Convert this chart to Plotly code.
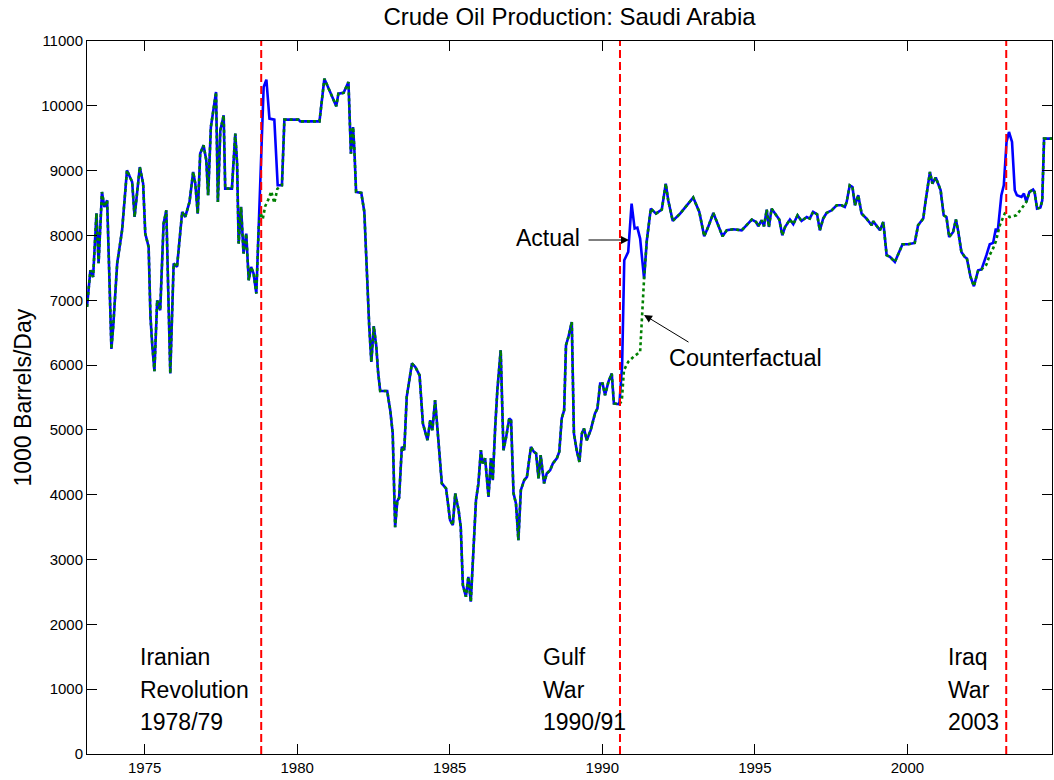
import plotly.graph_objects as go

# ---------------- data ----------------
years = [
    1973.11, 1973.22, 1973.31, 1973.42, 1973.49, 1973.60, 1973.68, 1973.77, 1973.91, 1973.97,
    1974.10, 1974.26, 1974.42, 1974.59, 1974.67, 1974.84, 1974.95, 1975.02, 1975.13, 1975.19,
    1975.25, 1975.32, 1975.41, 1975.47, 1975.51, 1975.62, 1975.71, 1975.78, 1975.84, 1975.95,
    1976.06, 1976.23, 1976.33, 1976.47, 1976.59, 1976.66, 1976.74, 1976.82, 1976.93, 1977.02,
    1977.08, 1977.17, 1977.26, 1977.34, 1977.40, 1977.48, 1977.59, 1977.64, 1977.86, 1977.97,
    1978.03, 1978.08, 1978.16, 1978.24, 1978.33, 1978.41, 1978.49, 1978.57, 1978.66,
    1978.74, 1978.82, 1978.90, 1978.99, 1979.09, 1979.25, 1979.36, 1979.50, 1979.58,
    1980.04, 1980.10, 1980.73, 1980.89, 1981.08, 1981.28, 1981.35, 1981.52, 1981.68, 1981.76,
    1981.83, 1981.87, 1981.93, 1982.10, 1982.20, 1982.28, 1982.36, 1982.43, 1982.51, 1982.59,
    1982.65, 1982.72, 1982.95, 1983.05, 1983.13, 1983.21, 1983.28, 1983.34, 1983.43, 1983.51,
    1983.59, 1983.76, 1983.87, 1984.01, 1984.12, 1984.27, 1984.36, 1984.43, 1984.52, 1984.60,
    1984.74, 1984.88, 1985.01, 1985.10, 1985.18, 1985.29, 1985.36, 1985.43, 1985.53, 1985.61,
    1985.69, 1985.86, 1985.94, 1986.02, 1986.08, 1986.16, 1986.27, 1986.35, 1986.41, 1986.49,
    1986.56, 1986.67, 1986.76, 1986.85, 1986.95, 1987.01, 1987.09, 1987.17, 1987.25, 1987.33,
    1987.44, 1987.53, 1987.66, 1987.76, 1987.83, 1987.91, 1987.98, 1988.09, 1988.18, 1988.29,
    1988.38, 1988.51, 1988.59, 1988.67, 1988.75, 1988.81, 1988.89, 1989.00, 1989.07, 1989.16,
    1989.25, 1989.33, 1989.40, 1989.49, 1989.62, 1989.76, 1989.84, 1989.93, 1990.01, 1990.09,
    1990.20, 1990.31, 1990.38, 1990.56,
    1990.65, 1990.72, 1990.85, 1990.96, 1991.06, 1991.15, 1991.24, 1991.37,
    1991.46, 1991.59, 1991.76, 1991.95, 1992.08, 1992.16, 1992.31, 1992.55, 1992.77, 1992.98,
    1993.18, 1993.34, 1993.47, 1993.64, 1993.77, 1993.94, 1994.08, 1994.29, 1994.57, 1994.73,
    1994.90, 1995.04, 1995.11, 1995.22, 1995.30, 1995.39, 1995.46, 1995.55, 1995.71, 1995.80,
    1995.90, 1995.99, 1996.15, 1996.26, 1996.40, 1996.53, 1996.70, 1996.80, 1996.91, 1997.04,
    1997.13, 1997.24, 1997.35, 1997.52, 1997.68, 1997.84, 1997.95, 1998.01, 1998.11, 1998.20,
    1998.28, 1998.39, 1998.50, 1998.66, 1998.83, 1998.88, 1999.10, 1999.21, 1999.32, 1999.43,
    1999.59, 1999.70, 1999.84, 2000.02, 2000.24, 2000.35, 2000.52, 2000.60, 2000.74, 2000.82,
    2000.93, 2001.09, 2001.19, 2001.28, 2001.37, 2001.50, 2001.59, 2001.66, 2001.77, 2001.88,
    2001.95, 2002.07, 2002.18, 2002.32, 2002.43,
    2002.59, 2002.70, 2002.81, 2002.90, 2002.96, 2003.08, 2003.16, 2003.25, 2003.33, 2003.43,
    2003.52, 2003.59, 2003.74, 2003.82, 2003.90,
    2004.00, 2004.12, 2004.17, 2004.25, 2004.36, 2004.42, 2004.48, 2004.74,
]
actual = [
    6898, 7463, 7360, 8342, 7571, 8671, 8440, 8543, 6250, 6600,
    7571, 8080, 9005, 8825, 8285, 9056, 8800, 8029, 7823, 6743,
    6300, 5906, 7000, 6900, 6846, 8183, 8388, 7000, 5870, 7567,
    7514, 8363, 8285, 8517, 8980, 8800, 8337, 9263, 9391, 9160,
    8620, 9673, 9931, 10213, 8517, 9622, 9853, 8723, 8723, 9571,
    9108, 7875, 8440, 7721, 8029, 7309, 7514, 7412, 7104,
    8100, 9300, 10290, 10403, 9802, 9787, 8774, 8774, 9787,
    9787, 9760, 9760, 10419, 10213, 9992, 10188, 10200, 10367, 9263,
    9673, 9365, 8671, 8656, 8363, 7335, 6600, 6050, 6600, 6300,
    5900, 5600, 5600, 5300, 4950, 3500, 3900, 3950, 4739, 4688,
    5510, 6024, 5972, 5844, 5099, 4842, 5150, 4996, 5459, 4996,
    4174, 4097, 3608, 3531, 4020, 3763, 3505, 2606, 2426, 2734,
    2349, 3917, 4174, 4688, 4483, 4560, 3968, 4560, 4225, 5047,
    5613, 6230, 4688, 4893, 5177, 5150, 4020, 3866, 3300, 4071,
    4225, 4276, 4739, 4662, 4637, 4251, 4611, 4174, 4328, 4379,
    4483, 4560, 4662, 5177, 5304, 6307, 6435, 6666, 4945, 4688,
    4507, 4945, 5022, 4842, 4996, 5253, 5330, 5716, 5716, 5536,
    5741, 5870, 5408, 5397,
    6000, 7617, 7746, 8492, 8106, 8121, 7952, 7335,
    7926, 8414, 8337, 8399, 8800, 8543, 8224, 8337, 8466, 8584,
    8363, 7988, 8131, 8347, 8193, 7988, 8080, 8096, 8080, 8157,
    8245, 8208, 8142, 8234, 8142, 8399, 8131, 8414, 8311, 8245,
    8003, 8131, 8245, 8173, 8311, 8224, 8285, 8260, 8363, 8327,
    8080, 8260, 8347, 8388, 8466, 8466, 8440, 8517, 8774, 8748,
    8466, 8620, 8337, 8260, 8157, 8219, 8080, 8208, 7695, 7669,
    7592, 7721, 7864, 7864, 7885, 8157, 8260, 8543, 8980, 8800,
    8893, 8697, 8311, 8285, 7977, 8054, 8245, 8080, 7746, 7669,
    7643, 7360, 7217, 7463, 7476,
    7695, 7864, 7885, 8106, 8054, 8620, 8774, 9442, 9596, 9442,
    8697, 8620, 8594, 8646, 8517,
    8671, 8707, 8671, 8414, 8430, 8540, 9494, 9494,
]

# Counterfactual paths where they depart from the actual series
cf_iran_years = [1978.74, 1978.80, 1978.87, 1978.95, 1979.05, 1979.15, 1979.25, 1979.35, 1979.50]
cf_iran_vals = [8150, 8350, 8250, 8450, 8550, 8680, 8500, 8720, 8774]
cf_gulf_years = [1990.64, 1990.71, 1990.85, 1991.02, 1991.24]
cf_gulf_vals = [5450, 5921, 6050, 6127, 6204]
cf_iraq_years = [2002.59, 2002.70, 2002.81, 2002.90, 2003.03, 2003.19, 2003.35, 2003.57, 2003.74]
cf_iraq_vals = [7550, 7700, 7800, 7910, 8157, 8337, 8285, 8311, 8414]
cf_windows = [
    (1978.66, 1979.58, cf_iran_years, cf_iran_vals),
    (1990.56, 1991.37, cf_gulf_years, cf_gulf_vals),
    (2002.43, 2003.90, cf_iraq_years, cf_iraq_vals),
]

event_years = [1978.82, 1990.58, 2003.24]
event_labels = [["Iranian", "Revolution", "1978/79"], ["Gulf", "War", "1990/91"], ["Iraq", "War", "2003"]]

x_ticks = [1975, 1980, 1985, 1990, 1995, 2000]
y_ticks = list(range(0, 11001, 1000))

# ---------------- build counterfactual from actual + windows ----------------
pts = []
for t, v in zip(years, actual):
    if not any(a < t < b for a, b, _, _ in cf_windows):
        pts.append((t, v))
for _, _, ws, vs in cf_windows:
    pts.extend(zip(ws, vs))
pts.sort()
cf_x = [p[0] for p in pts]
cf_y = [p[1] for p in pts]

FONT = "Liberation Sans, Arial, sans-serif"

fig = go.Figure()
fig.add_trace(go.Scatter(x=years, y=actual, mode="lines",
                         line=dict(color="#0000ff", width=2.6), name="Actual"))
fig.add_trace(go.Scatter(x=cf_x, y=cf_y, mode="lines",
                         line=dict(color="#008000", width=2.6, dash="dot"), name="Counterfactual"))

for ey in event_years:
    fig.add_shape(type="line", x0=ey, x1=ey, y0=0, y1=11000, xref="x", yref="y",
                  line=dict(color="#ff0000", width=2, dash="8px,4px"))

# layout geometry (pixels of the reference)
L, R, T, B = 87, 1052, 41, 754
xmin, xmax = 1973.11, 2004.74
ymin, ymax = 0, 11000
def px2x(px):
    return xmin + (px - L) / (R - L) * (xmax - xmin)
def py2y(py):
    return ymin + (B - py) / (B - T) * (ymax - ymin)

# event labels
label_x_px = [138, 541, 946]
line_y_px = [657, 690, 722]
for lx, lines in zip(label_x_px, event_labels):
    for ly, txt in zip(line_y_px, lines):
        fig.add_annotation(x=px2x(lx), y=py2y(ly), text=txt, showarrow=False,
                           xanchor="left", yanchor="middle",
                           font=dict(family=FONT, size=23, color="black"))

# Actual arrow
fig.add_annotation(x=px2x(629), y=py2y(240), ax=px2x(587), ay=py2y(240),
                   xref="x", yref="y", axref="x", ayref="y", text="",
                   showarrow=True, arrowhead=2, arrowsize=1.6, arrowwidth=1, arrowcolor="black")
fig.add_annotation(x=px2x(582), y=py2y(238), text="Actual", showarrow=False,
                   xanchor="right", yanchor="middle",
                   font=dict(family=FONT, size=23, color="black"))
# Counterfactual arrow
fig.add_annotation(x=px2x(644), y=py2y(315), ax=px2x(690), ay=py2y(343),
                   xref="x", yref="y", axref="x", ayref="y", text="",
                   showarrow=True, arrowhead=2, arrowsize=1.6, arrowwidth=1, arrowcolor="black")
fig.add_annotation(x=px2x(745), y=py2y(358), text="Counterfactual", showarrow=False,
                   xanchor="center", yanchor="middle",
                   font=dict(family=FONT, size=23.5, color="black"))

# y-axis title
fig.add_annotation(xref="paper", yref="paper", x=(22 - L) / (R - L), y=0.5,
                   text="1000 Barrels/Day", textangle=-90, showarrow=False,
                   xanchor="center", yanchor="middle",
                   font=dict(family=FONT, size=23, color="black"))

axis_common = dict(showline=True, linecolor="black", linewidth=1, mirror="ticks",
                   ticks="inside", ticklen=10, tickcolor="black", showgrid=False,
                   zeroline=False, automargin=False,
                   tickfont=dict(family=FONT, size=15, color="black"))

fig.update_layout(
    width=1054, height=780,
    margin=dict(l=L, r=1054 - R, t=T, b=780 - B, autoexpand=False),
    paper_bgcolor="white", plot_bgcolor="white",
    showlegend=False,
    title=dict(text="Crude Oil Production: Saudi Arabia", x=(L + R) / 2 / 1054, xanchor="center",
               y=1 - 17 / 780, yanchor="middle", yref="container", automargin=False,
               font=dict(family=FONT, size=24, color="black")),
    xaxis=dict(range=[xmin, xmax], tickvals=x_ticks, ticktext=[str(t) for t in x_ticks],
               ticklabelstandoff=0, **axis_common),
    yaxis=dict(range=[ymin, ymax], tickvals=y_ticks, ticktext=[str(t) for t in y_ticks],
               **axis_common),
)

fig.write_html("out.html", config={"displayModeBar": False},
               post_script="document.body.style.margin='0px';document.body.style.overflow='hidden';")
